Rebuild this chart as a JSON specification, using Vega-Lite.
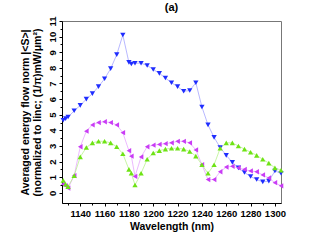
{
  "$schema": "https://vega.github.io/schema/vega-lite/v6.json",
  "autosize": "none",
  "width": 219,
  "height": 182,
  "padding": {"left": 62, "top": 21, "right": 46, "bottom": 42},
  "background": "white",
  "title": {"text": "(a)", "font": "Liberation Sans", "fontSize": 11, "fontWeight": "bold", "color": "black", "offset": 3},
  "config": {
    "view": {"stroke": "#777777", "strokeWidth": 1},
    "axis": {"labelFont": "Liberation Sans", "labelFontWeight": "bold", "labelFontSize": 9.5, "labelColor": "black", "titleFont": "Liberation Sans", "titleFontWeight": "bold", "titleFontSize": 10.5, "titleColor": "black", "domainColor": "black", "tickColor": "black", "grid": false, "tickSize": 3}
  },
  "data": {"values": [
    {"w":1126,"s":"B","v":4.65},{"w":1128,"s":"B","v":4.75},{"w":1130,"s":"B","v":4.85},{"w":1135,"s":"B","v":5.25},{"w":1140,"s":"B","v":5.6},{"w":1145,"s":"B","v":6.0},{"w":1150,"s":"B","v":6.35},{"w":1155,"s":"B","v":6.8},{"w":1160,"s":"B","v":7.3},{"w":1165,"s":"B","v":7.95},{"w":1170,"s":"B","v":8.85},{"w":1175,"s":"B","v":10.1},{"w":1180,"s":"B","v":8.35},{"w":1182,"s":"B","v":8.25},{"w":1185,"s":"B","v":8.3},{"w":1190,"s":"B","v":8.3},{"w":1195,"s":"B","v":8.15},{"w":1200,"s":"B","v":7.9},{"w":1205,"s":"B","v":7.65},{"w":1210,"s":"B","v":7.35},{"w":1215,"s":"B","v":7.05},{"w":1220,"s":"B","v":6.8},{"w":1225,"s":"B","v":6.5},{"w":1230,"s":"B","v":6.55},{"w":1235,"s":"B","v":7.05},{"w":1240,"s":"B","v":5.5},{"w":1245,"s":"B","v":4.35},{"w":1250,"s":"B","v":3.55},{"w":1255,"s":"B","v":2.9},{"w":1260,"s":"B","v":2.4},{"w":1265,"s":"B","v":1.95},{"w":1270,"s":"B","v":1.6},{"w":1275,"s":"B","v":1.3},{"w":1280,"s":"B","v":1.05},{"w":1285,"s":"B","v":0.85},{"w":1290,"s":"B","v":0.7},{"w":1295,"s":"B","v":0.75},{"w":1300,"s":"B","v":1.4},{"w":1305,"s":"B","v":1.25},
    {"w":1126,"s":"M","v":0.55},{"w":1128,"s":"M","v":0.45},{"w":1130,"s":"M","v":0.3},{"w":1135,"s":"M","v":1.1},{"w":1140,"s":"M","v":2.95},{"w":1145,"s":"M","v":3.95},{"w":1150,"s":"M","v":4.35},{"w":1155,"s":"M","v":4.5},{"w":1160,"s":"M","v":4.55},{"w":1165,"s":"M","v":4.5},{"w":1170,"s":"M","v":4.35},{"w":1175,"s":"M","v":3.85},{"w":1180,"s":"M","v":2.7},{"w":1182,"s":"M","v":2.35},{"w":1185,"s":"M","v":1.05},{"w":1190,"s":"M","v":2.3},{"w":1195,"s":"M","v":2.95},{"w":1200,"s":"M","v":3.05},{"w":1205,"s":"M","v":3.1},{"w":1210,"s":"M","v":3.15},{"w":1215,"s":"M","v":3.2},{"w":1220,"s":"M","v":3.3},{"w":1225,"s":"M","v":3.3},{"w":1230,"s":"M","v":3.2},{"w":1235,"s":"M","v":2.75},{"w":1240,"s":"M","v":1.8},{"w":1245,"s":"M","v":0.85},{"w":1250,"s":"M","v":0.85},{"w":1255,"s":"M","v":1.35},{"w":1260,"s":"M","v":1.65},{"w":1265,"s":"M","v":1.7},{"w":1270,"s":"M","v":1.6},{"w":1275,"s":"M","v":1.5},{"w":1280,"s":"M","v":1.4},{"w":1285,"s":"M","v":1.35},{"w":1290,"s":"M","v":1.15},{"w":1295,"s":"M","v":0.95},{"w":1300,"s":"M","v":0.65},{"w":1305,"s":"M","v":0.45},
    {"w":1126,"s":"G","v":0.8},{"w":1128,"s":"G","v":0.55},{"w":1130,"s":"G","v":0.4},{"w":1135,"s":"G","v":1.1},{"w":1140,"s":"G","v":2.3},{"w":1145,"s":"G","v":2.9},{"w":1150,"s":"G","v":3.2},{"w":1155,"s":"G","v":3.3},{"w":1160,"s":"G","v":3.3},{"w":1165,"s":"G","v":3.2},{"w":1170,"s":"G","v":2.95},{"w":1175,"s":"G","v":2.5},{"w":1180,"s":"G","v":1.5},{"w":1182,"s":"G","v":1.25},{"w":1185,"s":"G","v":0.5},{"w":1190,"s":"G","v":1.25},{"w":1195,"s":"G","v":2.15},{"w":1200,"s":"G","v":2.55},{"w":1205,"s":"G","v":2.7},{"w":1210,"s":"G","v":2.8},{"w":1215,"s":"G","v":2.85},{"w":1220,"s":"G","v":2.85},{"w":1225,"s":"G","v":2.8},{"w":1230,"s":"G","v":2.65},{"w":1235,"s":"G","v":2.35},{"w":1240,"s":"G","v":1.8},{"w":1245,"s":"G","v":1.25},{"w":1250,"s":"G","v":1.8},{"w":1255,"s":"G","v":2.85},{"w":1260,"s":"G","v":3.2},{"w":1265,"s":"G","v":3.2},{"w":1270,"s":"G","v":3.0},{"w":1275,"s":"G","v":2.8},{"w":1280,"s":"G","v":2.6},{"w":1285,"s":"G","v":2.4},{"w":1290,"s":"G","v":2.15},{"w":1295,"s":"G","v":1.9},{"w":1300,"s":"G","v":1.6},{"w":1305,"s":"G","v":1.45}
  ]},
  "resolve": {"axis": {"x": "independent", "y": "independent"}},
  "layer": [
    {"mark": {"type": "line", "strokeWidth": 0.7},
     "encoding": {
       "x": {"field": "w", "type": "quantitative", "scale": {"domain": [1125, 1305], "nice": false, "zero": false},
         "axis": {"orient": "bottom", "values": [1130,1150,1170,1190,1210,1230,1250,1270,1290], "labels": false, "title": null, "domain": false, "tickSize": 2}},
       "y": {"field": "v", "type": "quantitative", "scale": {"domain": [-0.65, 11], "nice": false, "zero": false},
         "axis": {"orient": "left", "values": [0.5,1.5,2.5,3.5,4.5,5.5,6.5,7.5,8.5,9.5,10.5], "labels": false, "title": null, "domain": false, "tickSize": 2}},
       "stroke": {"field": "s", "type": "nominal", "legend": null, "scale": {"domain": ["B","M","G"], "range": ["#9a9aff", "#e49cff", "#b0f080"]}}}},
    {"mark": {"type": "point", "filled": true, "size": 28, "opacity": 1},
     "encoding": {
       "x": {"field": "w", "type": "quantitative", "scale": {"domain": [1125, 1305], "nice": false, "zero": false},
         "axis": {"orient": "bottom", "values": [1140,1160,1180,1200,1220,1240,1260,1280,1300], "format": "d", "title": "Wavelength (nm)", "titlePadding": 4, "labelPadding": 2}},
       "y": {"field": "v", "type": "quantitative", "scale": {"domain": [-0.65, 11], "nice": false, "zero": false},
         "axis": {"orient": "left", "values": [0,1,2,3,4,5,6,7,8,9,10,11], "labelAngle": -90, "labelAlign": "center", "labelBaseline": "bottom", "labelPadding": 2,
           "title": ["Averaged energy flow norm |<S>|", "(normalized to Iinc; (1/π)mW/μm²)"], "titlePadding": 5, "titleLineHeight": 12}},
       "fill": {"field": "s", "type": "nominal", "legend": null, "scale": {"domain": ["B","M","G"], "range": ["#1f2dff", "#c93cf5", "#6ee314"]}},
       "shape": {"field": "s", "type": "nominal", "legend": null, "scale": {"domain": ["B","M","G"], "range": ["triangle-down", "triangle-left", "triangle-up"]}}}}
  ]
}
